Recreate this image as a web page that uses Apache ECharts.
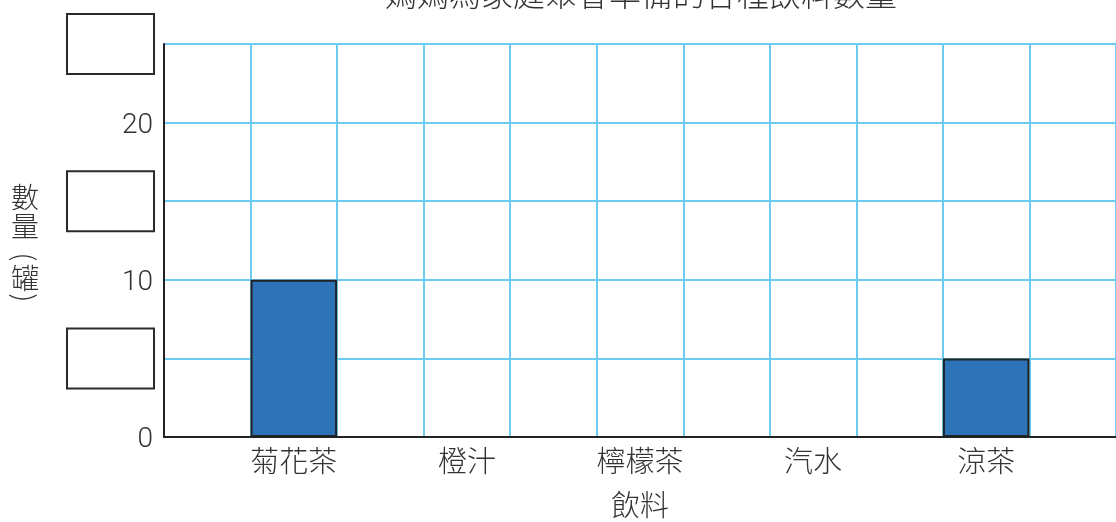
<!DOCTYPE html>
<html>
<head>
<meta charset="utf-8">
<style>
  html, body { margin: 0; padding: 0; background: #fff; }
  #chart { width: 1116px; height: 522px; }
</style>
<script src="https://cdn.jsdelivr.net/npm/echarts@6/dist/echarts.min.js"></script>
</head>
<body>
<div id="chart"></div>
<script>
// drinks and how many cans of each (blank ones are left for the pupil)
const drinks = ['菊花茶', '橙汁', '檸檬茶', '汽水', '涼茶'];
const cans = [10, null, null, null, 5];
// y ticks: numbers shown, the others are empty answer boxes
const shownTicks = [0, 10, 20];
const boxTicks = [5, 15, 25];

const FONT = '"Noto Sans CJK TC", "Noto Sans", sans-serif';

// every drink sits in its own column with an empty column between
const slots = [''];
const slotValues = [null];
drinks.forEach((d, i) => {
  slots.push(d, '');
  slotValues.push(cans[i], null);
});

// vertical y-axis title 數量（罐）, brackets turned sideways as in vertical writing
const nameStyle = { fontFamily: FONT, fontSize: 28, fontWeight: 300, fill: '#333', align: 'center', verticalAlign: 'middle' };
const yName = [
  { type: 'text', x: 25, y: 197, style: Object.assign({ text: '數' }, nameStyle) },
  { type: 'text', x: 25, y: 226, style: Object.assign({ text: '量' }, nameStyle) },
  { type: 'text', x: 25, y: 257, rotation: -Math.PI / 2, style: Object.assign({ text: '(' }, nameStyle) },
  { type: 'text', x: 25, y: 278, style: Object.assign({ text: '罐' }, nameStyle) },
  { type: 'text', x: 25, y: 298, rotation: -Math.PI / 2, style: Object.assign({ text: ')' }, nameStyle) }
];

const chart = echarts.init(document.getElementById('chart'));
chart.setOption({
  animation: false,
  title: {
    text: '媽媽為家庭聚會準備的各種飲料數量',
    left: 636,
    textAlign: 'center',
    top: -27,
    textStyle: { fontFamily: FONT, fontSize: 32, fontWeight: 300, color: '#333' }
  },
  graphic: yName,
  grid: { left: 164, right: 0, top: 44, bottom: 85, containLabel: false, outerBoundsMode: 'none' },
  xAxis: {
    type: 'category',
    data: slots,
    name: '飲料',
    nameLocation: 'middle',
    nameGap: 53,
    nameTextStyle: { fontFamily: FONT, fontSize: 29, fontWeight: 300, color: '#333' },
    axisLine: { lineStyle: { color: '#222', width: 2 } },
    axisTick: { show: false },
    axisLabel: { interval: 0, margin: 9, fontFamily: FONT, fontSize: 29, fontWeight: 300, color: '#333' },
    splitLine: { show: true, interval: 0, lineStyle: { color: '#6dcbf2', width: 2 } }
  },
  yAxis: {
    type: 'value',
    min: 0,
    max: 25,
    interval: 5,
    axisLine: { show: true, lineStyle: { color: '#222', width: 2 } },
    axisTick: { show: false },
    axisLabel: {
      margin: 11,
      formatter: v => {
        if (shownTicks.includes(v)) return '{num|' + v + '}';
        if (boxTicks.includes(v)) return '{box| }';
        return '';
      },
      rich: {
        num: {
          fontFamily: 'Roboto, sans-serif',
          fontSize: 28,
          fontWeight: 300,
          color: '#333',
          padding: [6, 0, 0, 0]
        },
        box: {
          width: 85,
          height: 58,
          borderColor: '#2b2b2b',
          borderWidth: 2,
          backgroundColor: '#fff'
        }
      }
    },
    splitLine: { show: true, lineStyle: { color: '#6dcbf2', width: 2 } }
  },
  series: [{
    type: 'bar',
    data: slotValues,
    barWidth: '100%',
    itemStyle: { color: '#2e72b8', borderColor: '#222', borderWidth: 2 }
  }]
});
</script>
</body>
</html>
